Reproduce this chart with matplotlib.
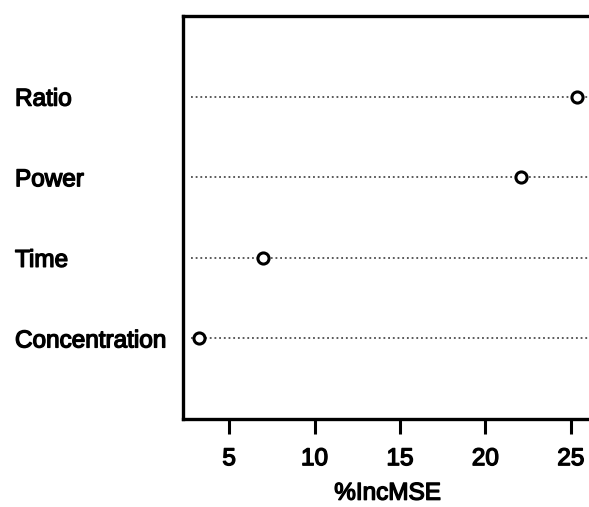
import matplotlib.pyplot as plt
import matplotlib.patheffects as pe

# variable importance (%IncMSE)
variables = ['Concentration', 'Time', 'Power', 'Ratio']
inc_mse = [3.25, 6.98, 22.1, 25.35]
ticks = [5, 10, 15, 20, 25]

plt.rcParams['font.family'] = ['Liberation Sans', 'DejaVu Sans']
heavy = [pe.withStroke(linewidth=1.0, foreground='black')]

fig = plt.figure(figsize=(5.89, 5.07), dpi=100)
ax = fig.add_axes([183 / 589, 1 - 419 / 507, 409 / 589, 403 / 507])

rows = list(range(1, len(variables) + 1))
ax.hlines(rows, 2.79, 27, colors='#4d4d4d', linestyles=(0, (1, 1.6)), lw=1.3, zorder=1)
ax.plot(inc_mse, rows, 'o', ms=8, mfc='white', mec='black', mew=2.2, zorder=3)

ax.set_xlim(2.30, 26.24)
ax.set_ylim(0, len(variables) + 1)
ax.set_xticks(ticks)
ax.set_xticklabels([str(t) for t in ticks], fontsize=17.5)
for lab in ax.get_xticklabels():
    lab.set_path_effects(heavy)
ax.set_yticks([])
ax.tick_params(axis='x', length=11, width=2.2, pad=10)

# row labels sit at the left edge of the figure
for r, name in zip(rows, variables):
    y = ax.transData.transform((0, r))[1] / fig.dpi / 5.07
    fig.text(15 / 589, y - 3 / 507, name, fontsize=17.5, ha='left', va='center',
             path_effects=heavy)

ax.set_xlabel('%IncMSE', fontsize=17.5, labelpad=9, path_effects=heavy)
for side in ['left', 'top', 'bottom', 'right']:
    ax.spines[side].set_linewidth(2.4)

fig.savefig('out.png', dpi=100)
